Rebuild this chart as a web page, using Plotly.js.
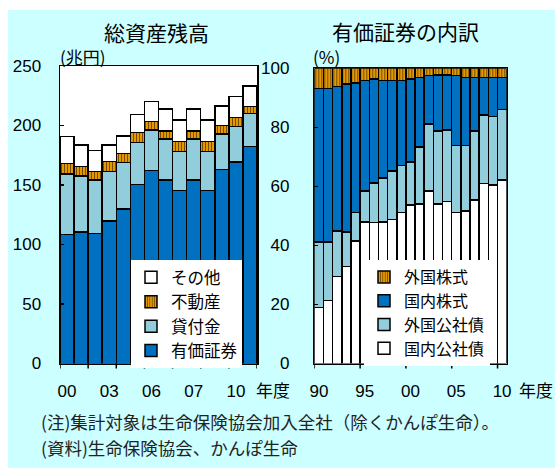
<!DOCTYPE html>
<html>
<head>
<meta charset="utf-8">
<script src="https://cdn.plot.ly/plotly-3.0.1.min.js"></script>
<style>
  html, body { margin: 0; padding: 0; background: #ffffff; }
  #chart { position: absolute; left: 8px; top: 10px; width: 547px; height: 458px; }
</style>
</head>
<body>
<div id="chart"></div>
<script>
// 総資産残高 (兆円)
const assetTickVals = [0, 3, 6, 9, 12];
const assetTickText = ['00', '03', '06', '07', '10'];
const securities = [108.6, 110.3, 109.4, 119.7, 129.8, 150.6, 162.0, 154.2, 145.2, 154.2, 145.2, 163.2, 169.3, 182.2];
const loans      = [50.6, 47.3, 44.8, 41.5, 39.3, 35.3, 34.2, 34.5, 32.8, 34.5, 32.8, 29.7, 29.7, 28.0];
const realEstate = [9.0, 7.8, 7.0, 8.4, 7.5, 8.1, 7.0, 6.7, 8.4, 6.7, 8.4, 7.2, 7.6, 5.6];
const otherAssets = [22.4, 18.2, 17.6, 14.0, 14.6, 15.4, 16.8, 18.5, 18.2, 18.5, 18.2, 16.5, 17.6, 17.4];

// 有価証券の内訳 (%)
const years = [1990, 1991, 1992, 1993, 1994, 1995, 1996, 1997, 1998, 1999, 2000,
               2001, 2002, 2003, 2004, 2005, 2006, 2007, 2008, 2009, 2010];
const yearTickVals = [1990, 1995, 2000, 2005, 2010];
const yearTickText = ['90', '95', '00', '05', '10'];
const domesticBonds = [18.9, 21.3, 29.4, 32.8, 41.5, 48.0, 47.7, 48.0, 48.8, 51.2, 53.7, 54.0, 58.4, 54.0, 54.8, 51.2, 51.7, 55.4, 61.0, 60.5, 62.2];
const foreignBonds  = [22.2, 19.8, 15.5, 11.8, 9.7, 10.5, 13.4, 14.9, 16.4, 15.9, 14.6, 19.4, 22.7, 24.8, 24.3, 22.7, 22.2, 23.4, 23.2, 23.1, 23.9];
const domesticStocks = [52.1, 52.1, 48.9, 50.0, 43.9, 37.3, 35.3, 32.9, 30.6, 28.7, 28.1, 23.5, 16.4, 18.9, 18.6, 23.7, 23.0, 18.1, 12.7, 13.3, 10.8];
const foreignStocks = [6.8, 6.8, 6.2, 5.4, 4.9, 4.2, 3.6, 4.2, 4.2, 4.2, 3.6, 3.1, 2.5, 2.3, 2.3, 2.4, 3.1, 3.1, 3.1, 3.1, 3.1];

const DARK = '#0070C0';
const LIGHT = '#92CDDC';
const ORANGE = '#E39A00';
const STRIPE = '#7A4A00';
const BG = '#CCFFFF';
const JP = '"Noto Sans CJK JP", "Noto Sans", sans-serif';
const NUM = '"Liberation Sans", Arial, sans-serif';

// page pixel -> paper fraction (div is 547x458, offset 8,10)
const W = 547, H = 458;
const px = x => (x - 8) / W;
const py = y => 1 - (y - 10) / H;

// plot boxes (page pixels)
const LEFT_BOX = { x0: 60, x1: 257, top: 66, bottom: 363.5 };
const RIGHT_BOX = { x0: 314.3, x1: 506.7, top: 68.3, bottom: 363.5 };
const TICK_LEN = 5;

const edge = { color: '#000000', width: 1.5 };
const stripes = { shape: '|', fgcolor: STRIPE, bgcolor: ORANGE, size: 3, solidity: 0.35, fillmode: 'replace' };

const idx = securities.map((_, i) => i);

// tick marks sit on the boundaries between bars, every 2 bars (left) / 5 years (right)
const assetBounds = [];
for (let v = -0.5; v <= idx.length - 0.5; v += 2) assetBounds.push(v);
const yearBounds = [];
for (let v = years[0] - 0.5; v < years[years.length - 1] + 0.5; v += 5) yearBounds.push(v);

function tickShapes(bounds, xref, yref, box) {
  const down = -TICK_LEN / (box.bottom - box.top);
  return bounds.map(v => ({
    type: 'line', xref: xref, yref: yref, x0: v, x1: v, y0: 0, y1: down,
    line: { color: '#000000', width: 1.5 }, layer: 'above'
  }));
}

function bar(x, y, name, color, axes, legend, pattern) {
  const m = { color: color, line: edge };
  if (pattern) m.pattern = pattern;
  return { type: 'bar', x: x, y: y, name: name, marker: m,
           xaxis: axes[0], yaxis: axes[1], legend: legend, hoverinfo: 'skip' };
}

const traces = [
  bar(idx, securities, '有価証券', DARK, ['x', 'y'], 'legend'),
  bar(idx, loans, '貸付金', LIGHT, ['x', 'y'], 'legend'),
  bar(idx, realEstate, '不動産', ORANGE, ['x', 'y'], 'legend', stripes),
  bar(idx, otherAssets, 'その他', '#FFFFFF', ['x', 'y'], 'legend'),
  bar(years, domesticBonds, '国内公社債', '#FFFFFF', ['x2', 'y2'], 'legend2'),
  bar(years, foreignBonds, '外国公社債', LIGHT, ['x2', 'y2'], 'legend2'),
  bar(years, domesticStocks, '国内株式', DARK, ['x2', 'y2'], 'legend2'),
  bar(years, foreignStocks, '外国株式', ORANGE, ['x2', 'y2'], 'legend2', stripes)
];

const tickFont = { family: NUM, size: 17, color: '#000000' };

const layout = {
  width: W, height: H,
  margin: { l: 0, r: 0, t: 0, b: 0 },
  paper_bgcolor: BG,
  plot_bgcolor: '#FFFFFF',
  barmode: 'stack',
  bargap: 0,
  showlegend: true,
  xaxis: {
    domain: [px(LEFT_BOX.x0), px(LEFT_BOX.x1)], anchor: 'y',
    range: [-0.5, idx.length - 0.5],
    tickmode: 'array', tickvals: assetTickVals, ticktext: assetTickText,
    ticks: '', tickfont: tickFont, ticklabelstandoff: 12,
    showline: true, linecolor: '#000000', linewidth: 1.5, mirror: true,
    showgrid: false, zeroline: false, fixedrange: true
  },
  yaxis: {
    domain: [py(LEFT_BOX.bottom), py(LEFT_BOX.top)], anchor: 'x',
    range: [0, 250], tickmode: 'linear', tick0: 0, dtick: 50,
    ticks: 'inside', ticklen: 4, tickwidth: 1.5, tickcolor: '#000000',
    tickfont: tickFont, ticklabelstandoff: 14,
    showline: true, linecolor: '#000000', linewidth: 1.5, mirror: true,
    showgrid: false, zeroline: false, fixedrange: true
  },
  xaxis2: {
    domain: [px(RIGHT_BOX.x0), px(RIGHT_BOX.x1)], anchor: 'y2',
    range: [years[0] - 0.5, years[years.length - 1] + 0.5],
    tickmode: 'array', tickvals: yearTickVals, ticktext: yearTickText,
    ticks: '', tickfont: tickFont, ticklabelstandoff: 12,
    showline: true, linecolor: '#000000', linewidth: 1.5, mirror: true,
    showgrid: false, zeroline: false, fixedrange: true
  },
  yaxis2: {
    domain: [py(RIGHT_BOX.bottom), py(RIGHT_BOX.top)], anchor: 'x2',
    range: [0, 100], tickmode: 'linear', tick0: 0, dtick: 20,
    ticks: 'inside', ticklen: 4, tickwidth: 1.5, tickcolor: '#000000',
    tickfont: tickFont, ticklabelstandoff: 20,
    showline: true, linecolor: '#000000', linewidth: 1.5, mirror: true,
    showgrid: false, zeroline: false, fixedrange: true
  },
  shapes: tickShapes(assetBounds, 'x', 'y domain', LEFT_BOX)
    .concat(tickShapes(yearBounds, 'x2', 'y2 domain', RIGHT_BOX)),
  legend: {
    x: px(131), y: py(260), xanchor: 'left', yanchor: 'top',
    bgcolor: '#FFFFFF', borderwidth: 0,
    traceorder: 'reversed',
    font: { family: JP, size: 16.5, color: '#000000' },
    itemwidth: 30, tracegroupgap: 0
  },
  legend2: {
    x: px(364), y: py(260), xanchor: 'left', yanchor: 'top',
    bgcolor: '#FFFFFF', borderwidth: 0,
    traceorder: 'reversed',
    font: { family: JP, size: 16, color: '#000000' },
    itemwidth: 30, tracegroupgap: 0
  },
  annotations: [
    { text: '総資産残高', x: px(157), y: py(32), xref: 'paper', yref: 'paper',
      xanchor: 'center', yanchor: 'middle', showarrow: false,
      font: { family: JP, size: 21, color: '#000000' } },
    { text: '有価証券の内訳', x: px(405), y: py(31), xref: 'paper', yref: 'paper',
      xanchor: 'center', yanchor: 'middle', showarrow: false,
      font: { family: JP, size: 21, color: '#000000' } },
    { text: '(兆円)', x: px(58), y: py(57), xref: 'paper', yref: 'paper',
      xanchor: 'left', yanchor: 'middle', showarrow: false,
      font: { family: JP, size: 17, color: '#000000' } },
    { text: '(%)', x: px(311), y: py(57), xref: 'paper', yref: 'paper',
      xanchor: 'left', yanchor: 'middle', showarrow: false,
      font: { family: JP, size: 17, color: '#000000' } },
    { text: '年度', x: px(254), y: py(389), xref: 'paper', yref: 'paper',
      xanchor: 'left', yanchor: 'middle', showarrow: false,
      font: { family: JP, size: 17, color: '#000000' } },
    { text: '年度', x: px(517), y: py(389), xref: 'paper', yref: 'paper',
      xanchor: 'left', yanchor: 'middle', showarrow: false,
      font: { family: JP, size: 17, color: '#000000' } },
    { text: '(注)集計対象は生命保険協会加入全社（除くかんぽ生命）。',
      x: px(39), y: py(421), xref: 'paper', yref: 'paper',
      xanchor: 'left', yanchor: 'middle', align: 'left', showarrow: false,
      font: { family: JP, size: 17.5, color: '#222222' } },
    { text: '(資料)生命保険協会、かんぽ生命',
      x: px(39), y: py(447), xref: 'paper', yref: 'paper',
      xanchor: 'left', yanchor: 'middle', align: 'left', showarrow: false,
      font: { family: JP, size: 17.5, color: '#222222' } }
  ]
};

Plotly.newPlot('chart', traces, layout, { staticPlot: true, displayModeBar: false });
</script>
</body>
</html>
